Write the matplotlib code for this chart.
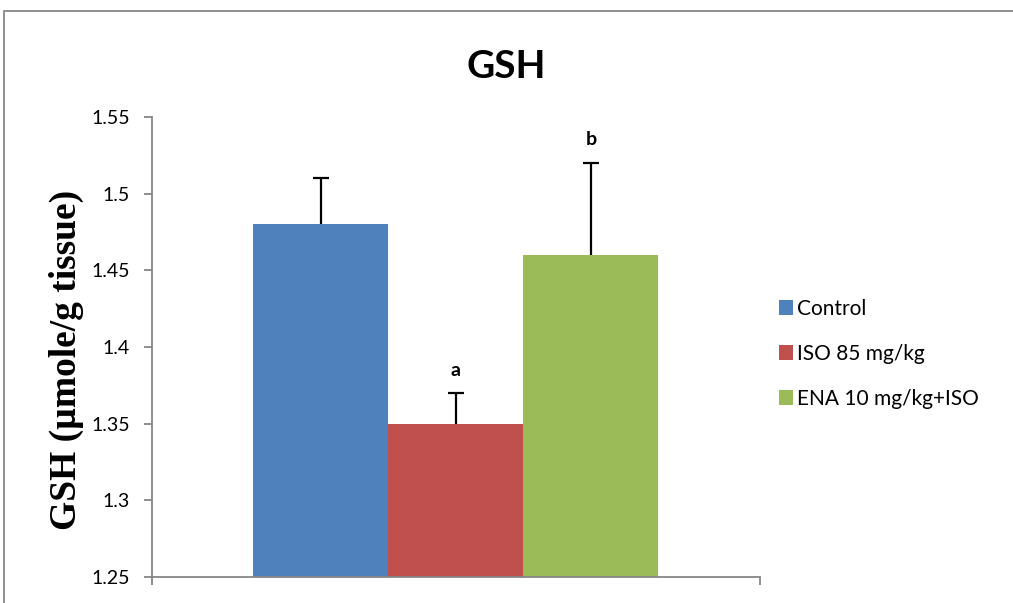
import numpy as np
import matplotlib.pyplot as plt
from matplotlib.lines import Line2D

# data
groups = ['Control', 'ISO 85 mg/kg', 'ENA 10 mg/kg+ISO']
gsh = [1.48, 1.35, 1.46]
sem = [0.03, 0.02, 0.06]
letters = ['', 'a', 'b']
colors = ['#4f81bd', '#c0504d', '#9bbb59']

fig = plt.figure(figsize=(10.13, 6.03), dpi=100)
ax = fig.add_axes([0.150, 0.043, 0.600, 0.763])

# outer chart frame (only top and left edges visible in the reference)
fx = 4 / 1013
fy = 1 - 11 / 603
fig.lines.append(Line2D([fx, fx, 1.0], [0.0, fy, fy], transform=fig.transFigure,
                        color='#868686', linewidth=1.3))

x = np.arange(len(groups)) - 1.0
for i in range(len(groups)):
    ax.bar(x[i], gsh[i] - 1.25, bottom=1.25, width=1.0, color=colors[i],
           label=groups[i], zorder=2)
    eb = ax.errorbar(x[i], gsh[i], yerr=[[0], [sem[i]]], fmt='none',
                     ecolor='black', elinewidth=1.6, capsize=6, capthick=1.6,
                     zorder=3)
    eb[1][0].set_visible(False)  # no cap at the bar top
    if letters[i]:
        ax.text(x[i], gsh[i] + sem[i] + 0.015, letters[i], ha='center',
                va='center', fontsize=14, fontweight='bold', family='Lato')

ax.set_xlim(-2.25, 2.25)
ax.set_ylim(1.25, 1.55)
ax.set_yticks(np.arange(1.25, 1.551, 0.05))
ax.set_yticklabels(['1.25', '1.3', '1.35', '1.4', '1.45', '1.5', '1.55'],
                   fontsize=14, family='Lato')
ax.set_xticks([-2.25, 2.25])
ax.set_xticklabels(['', ''])
ax.tick_params(axis='y', direction='out', length=6, color='#868686',
               width=1.3, pad=10)
ax.tick_params(axis='x', direction='out', length=6, color='#868686',
               width=1.3)
for s in ['top', 'right']:
    ax.spines[s].set_visible(False)
for s in ['left', 'bottom']:
    ax.spines[s].set_color('#868686')
    ax.spines[s].set_linewidth(1.3)

ax.set_ylabel('GSH (µmole/g tissue)', fontsize=27, fontweight='bold',
              family='Liberation Serif')
ax.yaxis.set_label_coords(-0.112, 0.472)
fig.text(0.5, 0.89, 'GSH', ha='center', va='center', fontsize=28,
         fontweight='bold', family='Lato')

leg = ax.legend(loc='center left', bbox_to_anchor=(1.0, 0.485), frameon=False,
                prop={'family': 'Lato', 'size': 15}, handlelength=0.7,
                handleheight=0.7, handletextpad=0.2, labelspacing=1.2)

fig.savefig('out.png', dpi=100)
print("Plot saved as out.png")
